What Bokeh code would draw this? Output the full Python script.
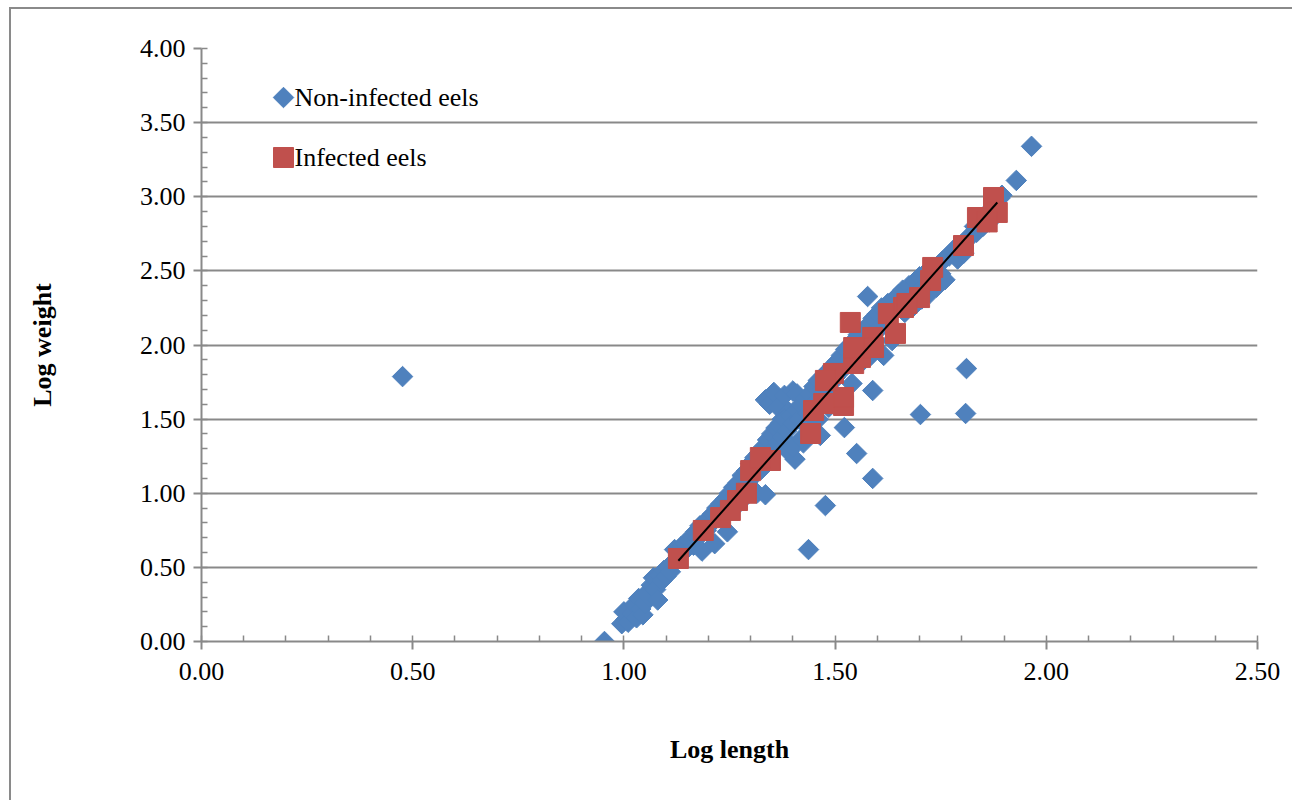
import numpy as np
from bokeh.plotting import figure
from bokeh.models import SingleIntervalTicker, PrintfTickFormatter, Range1d, Label
from bokeh.embed import file_html
from bokeh.resources import INLINE

# ---- data ----
non_infected_x = [
    0.476, 0.954, 0.995, 1.000, 1.005, 1.010, 1.020, 1.025, 1.030, 1.035, 1.040, 1.045, 1.050,
    1.055, 1.060, 1.065, 1.070, 1.075, 1.080, 1.085, 1.090, 1.095, 1.100, 1.105, 1.110,
    1.115, 1.120, 1.125, 1.130, 1.135, 1.140,
    1.145, 1.150, 1.155, 1.160, 1.165, 1.170, 1.175, 1.180, 1.185, 1.190, 1.195, 1.200,
    1.205, 1.210, 1.215, 1.220, 1.225, 1.230, 1.235, 1.240, 1.245, 1.250, 1.255, 1.260,
    1.265, 1.270, 1.275, 1.280, 1.285, 1.290, 1.295, 1.300, 1.305,
    1.310, 1.315, 1.320, 1.325, 1.330, 1.335, 1.340, 1.345, 1.350, 1.355, 1.360, 1.365,
    1.335, 1.345, 1.355, 1.365, 1.380, 1.400, 1.410, 1.375, 1.390, 1.370,
    1.370, 1.375, 1.380, 1.385, 1.390, 1.395, 1.400, 1.405, 1.410, 1.415, 1.420, 1.425,
    1.430, 1.435, 1.440, 1.445, 1.450, 1.455, 1.460, 1.465, 1.470, 1.475, 1.480, 1.485,
    1.490, 1.495, 1.500, 1.505, 1.510,
    1.515, 1.520, 1.525, 1.530, 1.535, 1.540, 1.545, 1.550, 1.555, 1.560, 1.565, 1.570,
    1.575, 1.580, 1.585, 1.590, 1.595, 1.600, 1.605, 1.610, 1.615, 1.620, 1.625, 1.630,
    1.635, 1.640, 1.645, 1.650, 1.655, 1.660, 1.665, 1.670, 1.675, 1.680, 1.685, 1.690,
    1.695, 1.700,
    1.705, 1.710, 1.715, 1.720, 1.725, 1.730, 1.735, 1.740, 1.745, 1.750, 1.755, 1.760,
    1.770, 1.780, 1.790, 1.800, 1.805, 1.810, 1.820, 1.830, 1.835, 1.845, 1.850, 1.860,
    1.865, 1.870, 1.880, 1.890, 1.895, 1.929, 1.965,
    1.811, 1.809, 1.702, 1.589, 1.551, 1.477, 1.437, 1.522, 1.589, 1.577,
    1.400, 1.420, 1.445, 1.460, 1.485,
]
non_infected_y = [
    1.787, 0.000, 0.12, 0.20, 0.15, 0.13, 0.19, 0.25, 0.16, 0.29, 0.22, 0.18, 0.26,
    0.33, 0.30, 0.38, 0.43, 0.35, 0.28, 0.45, 0.41, 0.48, 0.44, 0.50, 0.47,
    0.53, 0.62, 0.55, 0.58, 0.64, 0.60,
    0.66, 0.63, 0.68, 0.71, 0.65, 0.74, 0.70, 0.78, 0.61, 0.80, 0.75, 0.83,
    0.79, 0.86, 0.66, 0.90, 0.84, 0.93, 0.88, 0.96, 0.74, 1.00, 0.92, 1.04,
    0.98, 1.07, 0.94, 1.12, 1.03, 1.15, 1.08, 1.20, 1.12,
    1.24, 1.00, 1.27, 1.16, 1.31, 0.99, 1.36, 1.22, 1.40, 1.30, 1.44, 1.34,
    1.63, 1.60, 1.68, 1.58, 1.66, 1.69, 1.67, 1.50, 1.55, 1.47,
    1.45, 1.38, 1.50, 1.42, 1.28, 1.52, 1.47, 1.23, 1.56, 1.50, 1.60, 1.34,
    1.64, 1.54, 1.67, 1.58, 1.72, 1.62, 1.76, 1.39, 1.70, 1.80, 1.66, 1.83,
    1.74, 1.86, 1.78, 1.89, 1.63,
    1.93, 1.84, 1.97, 1.90, 2.00, 1.74, 2.03, 1.95, 2.07, 1.99, 1.89, 2.10,
    2.02, 2.14, 1.93, 2.18, 2.08, 2.21, 2.12, 2.25, 1.93, 2.16, 2.28, 2.20,
    2.03, 2.31, 2.24, 2.34, 2.27, 2.37, 2.22, 2.30, 2.40, 2.33, 2.26, 2.43,
    2.36, 2.46,
    2.31, 2.39, 2.49, 2.42, 2.35, 2.51, 2.45, 2.39, 2.54, 2.48, 2.57, 2.44,
    2.60, 2.64, 2.58, 2.67, 2.62, 2.70, 2.74, 2.80, 2.76, 2.84, 2.80, 2.88,
    2.83, 2.92, 2.96, 2.99, 3.01, 3.11, 3.34,
    1.841, 1.538, 1.531, 1.100, 1.268, 0.917, 0.620, 1.443, 1.693, 2.327,
    1.31, 1.37, 1.43, 1.50, 1.58,
]

infected_x = [
    1.129, 1.188, 1.229, 1.252, 1.269, 1.290, 1.300, 1.347, 1.323, 1.442, 1.449, 1.473,
    1.520, 1.482, 1.496, 1.544, 1.536, 1.589, 1.643, 1.626, 1.662, 1.731, 1.726, 1.804,
    1.837, 1.875, 1.884, 1.520, 1.477, 1.560, 1.591, 1.544, 1.700, 1.670, 1.860,
]
infected_y = [
    0.560, 0.749, 0.836, 0.884, 0.951, 1.000, 1.153, 1.221, 1.241, 1.403, 1.558, 1.605,
    1.592, 1.760, 1.808, 1.875, 2.152, 2.051, 2.078, 2.212, 2.253, 2.523, 2.435, 2.671,
    2.860, 2.995, 2.894, 1.646, 1.761, 1.916, 1.983, 1.983, 2.320, 2.280, 2.830,
]

series_labels = ["Non-infected eels", "Infected eels"]
x_ticks_step = 0.5
y_ticks_step = 0.5

FONT = "Liberation Serif"
GRAY = "#898989"
BLUE = "#4F81BD"
RED = "#C0504D"

FRAME_W = 1056
FRAME_H = 593

p = figure(width=1283, height=793, x_range=(0, 2.5), y_range=(0, 4),
           output_backend="svg", toolbar_location=None,
           min_border_left=190, min_border_right=37, min_border_top=39,
           min_border_bottom=161, outline_line_color=None)
p.styles = {"border-left": "2px solid #8a8a8a", "border-top": "2px solid #8a8a8a",
            "margin-left": "9px", "margin-top": "7px"}

# pixel-based ranges for the legend box
p.extra_x_ranges = {"px": Range1d(0, FRAME_W)}
p.extra_y_ranges = {"px": Range1d(0, FRAME_H)}

r_non = p.scatter(non_infected_x, non_infected_y, marker="square", angle=np.pi / 4,
                  size=14.5, fill_color=BLUE, line_color=BLUE)
r_inf = p.scatter(infected_x, infected_y, marker="square", size=20,
                  fill_color=RED, line_color=RED)

# linear trend line of infected eels
ix = np.array(infected_x)
iy = np.array(infected_y)
b, a = np.polyfit(ix, iy, 1)
tx = np.array([ix.min(), ix.max()])
p.line(tx, a + b * tx, line_color="black", line_width=2)

# axes
p.xaxis.ticker = SingleIntervalTicker(interval=x_ticks_step, num_minor_ticks=5)
p.yaxis.ticker = SingleIntervalTicker(interval=y_ticks_step, num_minor_ticks=5)
for ax in (p.xaxis[0], p.yaxis[0]):
    ax.formatter = PrintfTickFormatter(format="%.2f")
    ax.axis_line_color = GRAY
    ax.axis_line_width = 2
    ax.major_tick_line_color = GRAY
    ax.major_tick_line_width = 2
    ax.minor_tick_line_color = GRAY
    ax.minor_tick_line_width = 1.5
    ax.major_tick_in = 0
    ax.major_tick_out = 8
    ax.minor_tick_in = 6
    ax.minor_tick_out = 0
    ax.major_label_text_font = FONT
    ax.major_label_text_font_size = "26px"
    ax.major_label_text_color = "black"
    ax.axis_label_text_font = FONT
    ax.axis_label_text_font_size = "26px"
    ax.axis_label_text_font_style = "bold"
    ax.axis_label_text_color = "black"

p.xaxis.major_label_standoff = 13
p.yaxis.major_label_standoff = 8
p.xaxis.axis_label = "Log length"
p.yaxis.axis_label = "Log weight"
p.xaxis.axis_label_standoff = 52
p.yaxis.axis_label_standoff = 80

p.xgrid.grid_line_color = None
p.ygrid.grid_line_color = GRAY
p.ygrid.grid_line_width = 2

# legend (markers + labels placed in frame pixel units)
p.scatter([82], [FRAME_H - 49], marker="square", angle=np.pi / 4, size=14.5,
          fill_color=BLUE, line_color=BLUE, x_range_name="px", y_range_name="px")
p.scatter([82], [FRAME_H - 109], marker="square", size=20,
          fill_color=RED, line_color=RED, x_range_name="px", y_range_name="px")
for i, lab in enumerate(series_labels):
    p.add_layout(Label(x=93, y=FRAME_H - 49 - 60 * i, text=lab,
                       x_range_name="px", y_range_name="px",
                       text_font=FONT, text_font_size="26px", text_color="black",
                       text_baseline="middle", text_align="left"))

open("out.html", "w").write(file_html(p, INLINE))
